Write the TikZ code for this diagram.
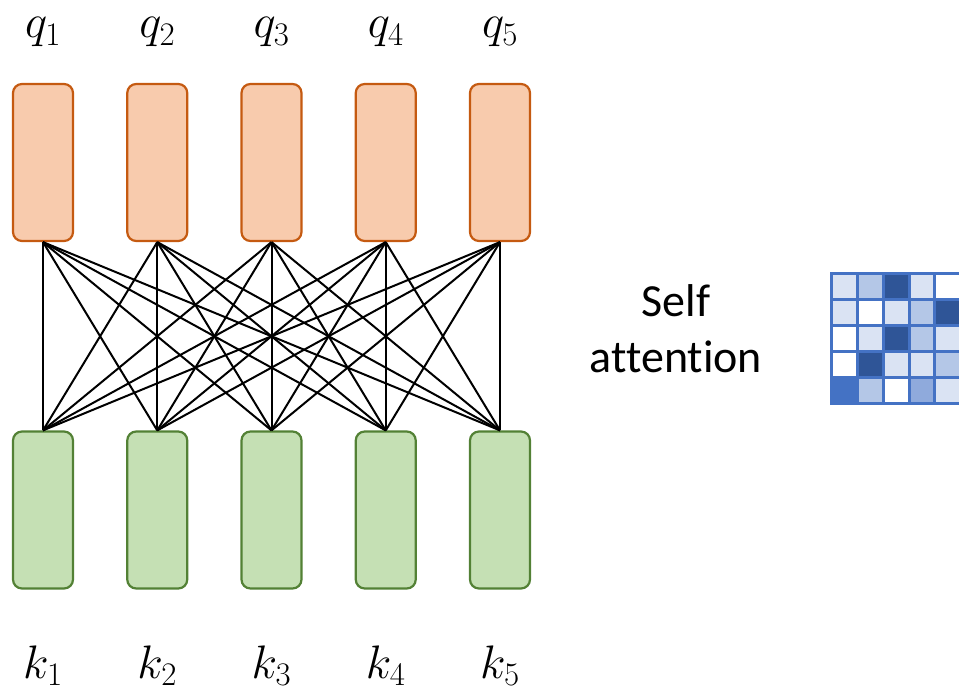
\RequirePackage{fix-cm}
\documentclass[tikz,border=0pt]{standalone}
\usepackage{fontspec}
\setmainfont[Ligatures=NoCommon]{Carlito}

\definecolor{qfill}{HTML}{F8CBAD}
\definecolor{qline}{HTML}{C55A11}
\definecolor{kfill}{HTML}{C5E0B4}
\definecolor{kline}{HTML}{538135}
\definecolor{att0}{HTML}{FFFFFF}
\definecolor{att1}{HTML}{DAE3F3}
\definecolor{att2}{HTML}{B4C7E7}
\definecolor{att3}{HTML}{8FAADC}
\definecolor{att4}{HTML}{4472C4}
\definecolor{att5}{HTML}{2F5597}

\tikzset{
  vecbox/.style={rectangle, rounded corners=9pt, line width=2.2pt,
    minimum width=60pt, minimum height=157pt, inner sep=0pt},
  qbox/.style={vecbox, draw=qline, fill=qfill},
  kbox/.style={vecbox, draw=kline, fill=kfill},
  veclabel/.style={anchor=base, inner sep=0pt, font=\fontsize{47}{56}\selectfont},
  link/.style={line width=2pt, black},
  gridline/.style={line width=3pt, att4},
}

\begin{document}
\begin{tikzpicture}[x=1pt, y=-1pt]
\useasboundingbox (0,0) rectangle (959,692);

% query and key vectors with their labels
\foreach \i/\x in {1/43, 2/157.25, 3/271.5, 4/385.75, 5/500} {
  \node[qbox] (q\i) at (\x,162.5) {};
  \node[kbox] (k\i) at (\x,510) {};
  \node[veclabel] (ql\i) at (\x,38) {$q_{\i}$};
  \node[veclabel] (kl\i) at (\x,678) {$k_{\i}$};
}

% every query attends to every key
\foreach \i in {1,...,5} {
  \foreach \j in {1,...,5} {
    \draw[link] (q\i.south) -- (k\j.north);
  }
}

\node[align=center, inner sep=0pt, font=\fontsize{46}{56}\selectfont]
  (sa) at (676,329) {Self\\attention};

% attention weight matrix
\begin{scope}
  \clip (0,0) rectangle (959,692);
  \def\cw{25.85}
  \foreach \row/\vals in {0/{1,2,5,1,0}, 1/{1,0,1,2,5}, 2/{0,1,5,2,1},
                          3/{0,5,1,1,2}, 4/{4,2,0,3,1}} {
    \foreach \v [count=\c from 0] in \vals {
      \fill[att\v] (831.5+\c*\cw, 274+\row*\cw) rectangle ++(\cw,\cw);
    }
  }
  \foreach \k in {0,...,5} {
    \draw[gridline] (831.5+\k*\cw, 274-1.5) -- (831.5+\k*\cw, 274+5*\cw+1.5);
    \draw[gridline] (831.5-1.5, 274+\k*\cw) -- (831.5+5*\cw+1.5, 274+\k*\cw);
  }
\end{scope}
\end{tikzpicture}
\end{document}
